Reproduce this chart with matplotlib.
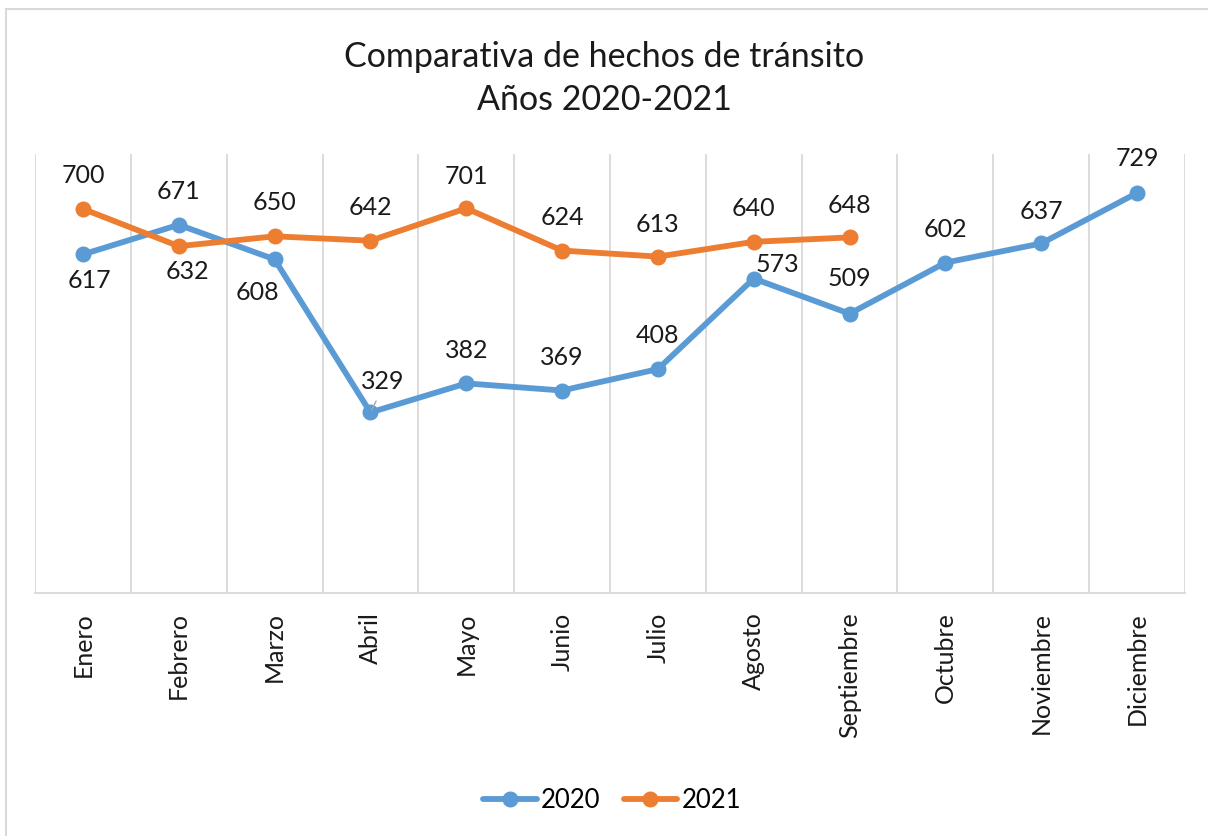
import numpy as np
import matplotlib
matplotlib.use("Agg")
import matplotlib.pyplot as plt
from matplotlib.patches import Rectangle

# data
meses = ["Enero", "Febrero", "Marzo", "Abril", "Mayo", "Junio", "Julio",
         "Agosto", "Septiembre", "Octubre", "Noviembre", "Diciembre"]
v2020 = [617, 671, 608, 329, 382, 369, 408, 573, 509, 602, 637, 729]
v2021 = [700, 632, 650, 642, 701, 624, 613, 640, 648]

# label offsets (points) for each data label
off2020 = [(5, -19), (0, 24), (-12, -24), (9, 22), (0, 24), (0, 24), (0, 24),
           (17, 10), (0, 25), (0, 24), (0, 23), (0, 25)]
off2021 = [(0, 24), (6, -18), (0, 24), (0, 24), (0, 23), (0, 24), (0, 23),
           (0, 24), (0, 23)]

C2020 = "#5B9BD5"
C2021 = "#ED7D31"
FONT = "Lato"

fig = plt.figure(figsize=(12.08, 8.36), dpi=100)
ax = fig.add_axes([35/1208, 1 - 593/836, (1185 - 35)/1208, (593 - 154)/836])

x20 = np.arange(len(v2020))
x21 = np.arange(len(v2021))
ax.plot(x20, v2020, color=C2020, lw=4.2, marker="o", ms=10.5, label="2020",
        solid_capstyle="round", zorder=3)
ax.plot(x21, v2021, color=C2021, lw=4.2, marker="o", ms=10.5, label="2021",
        solid_capstyle="round", zorder=3)

for xs, ys, offs in [(x20, v2020, off2020), (x21, v2021, off2021)]:
    for xi, yi, (dx, dy) in zip(xs, ys, offs):
        ax.annotate(str(yi), (xi, yi), xytext=(dx, dy), textcoords="offset points",
                    ha="center", va="center", fontsize=18, family=FONT,
                    color="#1a1a1a")
# leader line for Abril 2020
ax.annotate("", (3, v2020[3]), xytext=(5, 10), textcoords="offset points",
            arrowprops=dict(arrowstyle="-", color="#A6A6A6", lw=1))

ax.set_xlim(-0.5, 11.5)
ax.set_ylim(0, 800)
for b in np.arange(-0.5, 12, 1):
    ax.axvline(b, color="#D9D9D9", lw=1.3, zorder=0)
for s in ["top", "right", "left"]:
    ax.spines[s].set_visible(False)
ax.spines["bottom"].set_color("#D9D9D9")
ax.spines["bottom"].set_linewidth(1.3)
ax.set_yticks([])
ax.set_xticks(x20)
ax.set_xticklabels(meses, rotation=90, fontsize=18, family=FONT, color="#1a1a1a")
ax.tick_params(axis="x", length=0, pad=14)

fig.text(0.5, 1 - 57/836, "Comparativa de hechos de tránsito", ha="center",
         va="center", fontsize=24.5, family=FONT, color="#1a1a1a")
fig.text(0.5, 1 - 100/836, "Años 2020-2021", ha="center", va="center",
         fontsize=24.5, family=FONT, color="#1a1a1a")

leg = fig.legend(loc="center", bbox_to_anchor=(612/1208, 1 - 800/836), ncol=2,
                 frameon=False, prop={"family": FONT, "size": 18.5},
                 handlelength=2.1, columnspacing=0.9, handletextpad=0.15)

fig.patches.append(Rectangle((6/1208, -0.1), 1.1, 1.1 - 9/836,
                             transform=fig.transFigure, fill=False,
                             edgecolor="#D9D9D9", lw=1.5))

fig.savefig("out.png", dpi=100)
